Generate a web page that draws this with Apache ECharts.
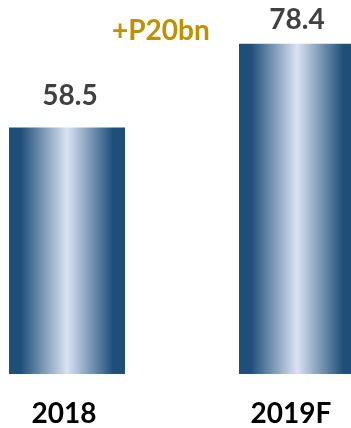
<!DOCTYPE html>
<html>
<head>
<meta charset="utf-8">
<script src="https://cdn.jsdelivr.net/npm/echarts@6/dist/echarts.min.js"></script>
<style>html,body{margin:0;padding:0;background:#fff;}#c{width:351px;height:428px;}</style>
</head>
<body>
<div id="c"></div>
<script>
var categories = ['2018', '2019F'];
var values = [58.5, 78.4];
var valueLabels = ['58.5', '78.4'];
var changeLabel = '+P20bn';

var chart = echarts.init(document.getElementById('c'), null, {renderer: 'canvas'});
var grad = new echarts.graphic.LinearGradient(0, 0, 1, 0, [
  {offset: 0, color: '#1F4E79'},
  {offset: 0.1, color: '#1F4E79'},
  {offset: 0.5, color: '#DAE3F3'},
  {offset: 0.9, color: '#1F4E79'},
  {offset: 1, color: '#1F4E79'}
]);
chart.setOption({
  animation: false,
  grid: {left: 67, right: 54, top: 37, bottom: 52, containLabel: false},
  xAxis: {
    type: 'category',
    boundaryGap: false,
    data: categories.map(function (c, i) {
      return {value: c, textStyle: i === 1 ? {padding: [0, 12, 6, 0]} : {padding: [0, 6, 0, 0]}};
    }),
    axisLine: {show: false}, axisTick: {show: false},
    axisLabel: {color: '#000', fontFamily: 'Lato', fontWeight: 'bold', fontSize: 28, margin: 26}
  },
  yAxis: {type: 'value', min: 0, max: 80, show: false, splitLine: {show: false}},
  series: [{
    type: 'bar',
    barWidth: 116,
    clip: false,
    data: values.map(function (v, i) {
      return {value: v, label: i === 0 ? {distance: 18, padding: [0, 0, 0, 6]} : {distance: 10}};
    }),
    itemStyle: {color: grad},
    label: {
      show: true, position: 'top', color: '#404040',
      fontFamily: 'Lato', fontWeight: 'bold', fontSize: 28,
      formatter: function (p) { return valueLabels[p.dataIndex]; }
    }
  }],
  graphic: [{
    type: 'text', left: 112, top: 17,
    style: {text: changeLabel, fill: '#BF9000', font: 'bold 28px Lato'}
  }]
});
</script>
</body>
</html>
